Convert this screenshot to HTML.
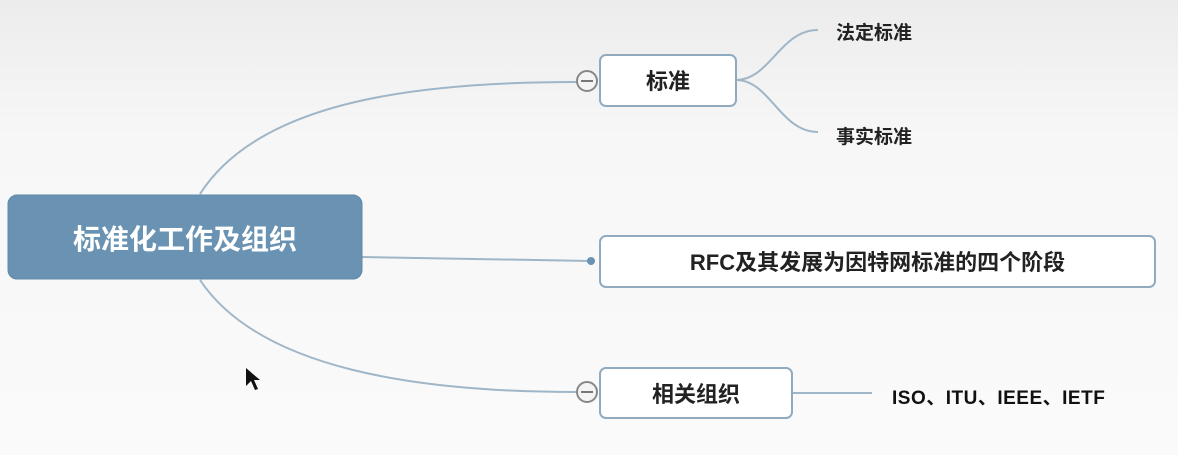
<!DOCTYPE html>
<html><head><meta charset="utf-8"><style>
html,body{margin:0;padding:0;width:1178px;height:455px;overflow:hidden;background:#f6f6f6;font-family:"Liberation Sans","Noto Sans CJK SC",sans-serif;}
.t{position:absolute;font-weight:bold;color:#222;white-space:nowrap}
</style></head><body>
<svg width="1178" height="455" style="position:absolute;left:0;top:0">
<defs><linearGradient id="bg" x1="0" y1="0" x2="0" y2="1"><stop offset="0" stop-color="#ececec"/><stop offset="0.3" stop-color="#f7f7f7"/><stop offset="1" stop-color="#fafafa"/></linearGradient></defs>
<rect width="1178" height="455" fill="url(#bg)"/>
<g fill="none" stroke="#9fb6c8" stroke-width="2">
<path d="M200 194 C260 100 420 82 577 82"/>
<path d="M200 280 C260 370 420 392 577 392"/>
<path d="M362 257 L591 261"/>
<path d="M736 80 C770 80 780 30 818 30"/>
<path d="M736 80 C770 80 780 132 818 132"/>
<path d="M792 393 L872 393"/>
</g>
<rect x="8" y="195" width="354" height="84" rx="9" fill="#6a93b3" stroke="#5f88a8"/>
<rect x="600" y="55" width="136" height="51" rx="6" fill="#fff" stroke="#90abc0" stroke-width="2"/>
<rect x="600" y="236" width="555" height="51" rx="6" fill="#fff" stroke="#90abc0" stroke-width="2"/>
<rect x="600" y="368" width="192" height="50" rx="6" fill="#fff" stroke="#90abc0" stroke-width="2"/>
<circle cx="587" cy="81" r="10" fill="#f4f4f4" stroke="#888" stroke-width="2"/>
<line x1="581" y1="81" x2="593" y2="81" stroke="#777" stroke-width="2"/>
<circle cx="587" cy="392" r="10" fill="#f4f4f4" stroke="#888" stroke-width="2"/>
<line x1="581" y1="392" x2="593" y2="392" stroke="#777" stroke-width="2"/>
<circle cx="591" cy="261" r="4" fill="#6a93b3"/>
<path d="M246 368 L246 386 L251 381 L255 390 L258 389 L254 380 L260 380 Z" fill="#111"/>
</svg>
<div class="t" style="left:8px;width:354px;top:218px;text-align:center;font-size:28px;color:#fff">标准化工作及组织</div>
<div class="t" style="left:600px;width:136px;top:64px;text-align:center;font-size:22px">标准</div>
<div class="t" style="left:836px;top:18px;font-size:19px">法定标准</div>
<div class="t" style="left:836px;top:122px;font-size:19px">事实标准</div>
<div class="t" style="left:600px;width:555px;top:245px;text-align:center;font-size:22px">RFC及其发展为因特网标准的四个阶段</div>
<div class="t" style="left:600px;width:192px;top:377px;text-align:center;font-size:22px">相关组织</div>
<div class="t" style="left:892px;top:383px;font-size:19px;font-weight:bold;color:#111;letter-spacing:0.5px">ISO、ITU、IEEE、IETF</div>
</body></html>
